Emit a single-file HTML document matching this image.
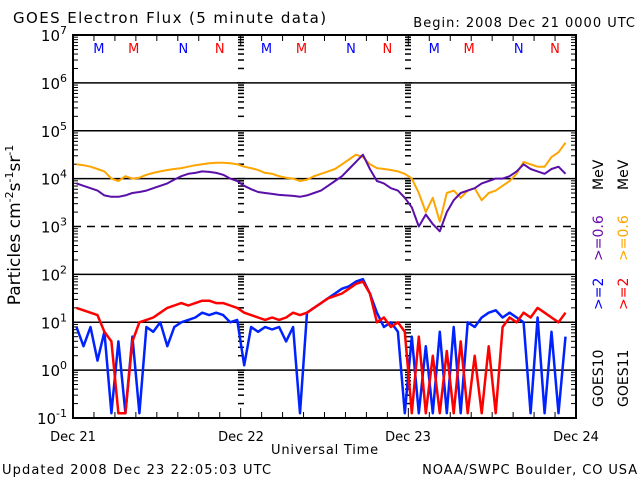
<!DOCTYPE html>
<html><head><meta charset="utf-8">
<style>
html,body{margin:0;padding:0;background:#fff;}
svg{display:block;font-family:"DejaVu Sans","Liberation Sans",sans-serif;}
</style></head>
<body>
<svg id="chart" width="640" height="480" viewBox="0 0 640 480">
<rect x="0" y="0" width="640" height="480" fill="#fff"/>
<text x="13" y="23" font-size="15" letter-spacing="1.4">GOES Electron Flux (5 minute data)</text>
<text x="636" y="27" font-size="13" letter-spacing="1" text-anchor="end">Begin: 2008 Dec 21 0000 UTC</text>
<g id="grid"></g>
<g id="ticks"></g>
<g id="series"></g>
<rect x="73" y="35" width="503" height="383" fill="none" stroke="#000" stroke-width="2"/>
<g id="ylabels" font-size="15"></g>
<g id="mn" font-size="13"></g>
<text x="73" y="441" font-size="13" text-anchor="middle">Dec 21</text>
<text x="241" y="441" font-size="13" text-anchor="middle">Dec 22</text>
<text x="408" y="441" font-size="13" text-anchor="middle">Dec 23</text>
<text x="576" y="441" font-size="13" text-anchor="middle">Dec 24</text>
<text x="325" y="454" font-size="13" letter-spacing="0.8" text-anchor="middle">Universal Time</text>
<text x="2" y="474" font-size="13" letter-spacing="1.1">Updated 2008 Dec 23 22:05:03 UTC</text>
<text x="638" y="474" font-size="13" letter-spacing="0.9" text-anchor="end">NOAA/SWPC Boulder, CO USA</text>
<text transform="translate(20,225) rotate(-90)" font-size="17" text-anchor="middle">Particles cm<tspan dy="-7" font-size="11">-2</tspan><tspan dy="7">s</tspan><tspan dy="-7" font-size="11">-1</tspan><tspan dy="7">sr</tspan><tspan dy="-7" font-size="11">-1</tspan></text>
<g font-size="14">
<text transform="translate(603,407) rotate(-90)" fill="#000">GOES10</text>
<text transform="translate(603,310) rotate(-90)" fill="#0000ff">&gt;=2</text>
<text transform="translate(603,261) rotate(-90)" fill="#6a0dad">&gt;=0.6</text>
<text transform="translate(603,190) rotate(-90)" fill="#000">MeV</text>
<text transform="translate(628,407) rotate(-90)" fill="#000">GOES11</text>
<text transform="translate(628,310) rotate(-90)" fill="#ff0000">&gt;=2</text>
<text transform="translate(628,261) rotate(-90)" fill="#ffa500">&gt;=0.6</text>
<text transform="translate(628,190) rotate(-90)" fill="#000">MeV</text>
</g>
</svg>
<script>
const hours = Array.from({length:71},(_,i)=>i);
const purpleLog = [3.9,3.85,3.8,3.75,3.65,3.62,3.62,3.65,3.7,3.72,3.75,3.8,3.85,3.9,3.98,4.05,4.1,4.12,4.15,4.14,4.12,4.08,4.0,3.95,3.85,3.78,3.72,3.7,3.68,3.66,3.65,3.64,3.62,3.65,3.7,3.75,3.85,3.95,4.05,4.2,4.35,4.5,4.2,3.95,3.9,3.8,3.75,3.6,3.4,3.0,3.25,3.05,2.9,3.3,3.55,3.7,3.75,3.8,3.9,3.95,4.0,4.0,4.05,4.15,4.3,4.2,4.15,4.1,4.2,4.25,4.1];
const orangeLog = [4.3,4.28,4.25,4.2,4.15,4.0,3.95,4.05,4.0,4.02,4.08,4.12,4.15,4.18,4.2,4.22,4.25,4.28,4.3,4.32,4.33,4.33,4.32,4.3,4.25,4.22,4.18,4.12,4.1,4.05,4.02,4.0,3.95,3.98,4.05,4.1,4.15,4.2,4.3,4.4,4.5,4.45,4.3,4.22,4.2,4.18,4.15,4.1,4.0,3.7,3.3,3.6,3.1,3.7,3.75,3.6,3.75,3.8,3.55,3.7,3.75,3.85,3.95,4.1,4.35,4.3,4.25,4.25,4.45,4.55,4.75];
const blueLog = [0.9,0.5,0.9,0.2,0.8,-0.9,0.6,-0.9,0.7,-0.9,0.9,0.8,1.0,0.5,0.9,1.0,1.05,1.1,1.2,1.15,1.2,1.15,1.0,1.05,0.1,0.9,0.8,0.9,0.85,0.9,0.6,0.9,-0.9,1.2,1.3,1.4,1.5,1.6,1.7,1.75,1.85,1.9,1.6,1.2,0.9,1.0,0.8,-0.9,0.7,-0.9,0.5,-0.9,0.8,-0.9,0.9,-0.9,1.0,0.9,1.1,1.2,1.25,1.1,1.2,1.1,1.0,-0.9,1.1,-0.9,0.8,-0.9,0.7];
const redLog = [1.3,1.25,1.2,1.15,0.8,0.6,-0.9,-0.9,0.6,1.0,1.05,1.1,1.2,1.3,1.35,1.4,1.35,1.4,1.45,1.45,1.4,1.4,1.35,1.3,1.2,1.15,1.1,1.05,1.1,1.05,1.1,1.2,1.15,1.2,1.3,1.4,1.5,1.55,1.6,1.7,1.8,1.85,1.6,1.0,1.1,0.9,1.0,0.8,-0.9,0.7,-0.9,0.3,-0.9,0.4,-0.9,0.6,-0.9,0.3,-0.9,0.5,-0.9,0.9,1.1,1.0,1.2,1.1,1.3,1.2,1.1,1.0,1.2];
const yTickExps = [7,6,5,4,3,2,1,0,-1];
const mnLetters = ["M","M","N","N"];
const mnHours = [3.7,8.7,15.8,21.0];

const NS="http://www.w3.org/2000/svg";
const X0=73,X1=576,Y0=35,Y1=418;
const xs = h => X0 + h*(X1-X0)/72;
const ys = l => Y1 - (l+1)*(Y1-Y0)/8;
function mk(tag,attrs,parent){const e=document.createElementNS(NS,tag);for(const k in attrs)e.setAttribute(k,attrs[k]);parent.appendChild(e);return e;}
const grid=document.getElementById('grid'),ticks=document.getElementById('ticks'),series=document.getElementById('series'),ylab=document.getElementById('ylabels'),mn=document.getElementById('mn');
[6,5,4,3,2,1,0].forEach(e=>{
  const l=mk('line',{x1:X0,x2:X1,y1:ys(e),y2:ys(e),stroke:'#000','stroke-width':1.5},grid);
  if(e===3) l.setAttribute('stroke-dasharray','8,6');
  
  
});
yTickExps.forEach(e=>{
  const t=mk('text',{x:67,y:ys(e)+6,'text-anchor':'end'},ylab);
  t.textContent='10';
  const s=mk('tspan',{dy:-7,'font-size':11},t); s.textContent=String(e);
  
  
});
for(let e=-1;e<7;e++){for(let m=2;m<10;m++){const y=ys(e+Math.log10(m));
  mk('line',{x1:X0,x2:X0+5,y1:y,y2:y,stroke:'#000'},ticks);
  [241,408].forEach(x=>mk('line',{x1:x-3,x2:x+3,y1:y,y2:y,stroke:'#000','stroke-width':1.5},ticks));
  mk('line',{x1:X1-5,x2:X1,y1:y,y2:y,stroke:'#000'},ticks);
}}
for(let e=-1;e<=7;e++){[241,408].forEach(x=>mk('line',{x1:x-4,x2:x+4,y1:ys(e),y2:ys(e),stroke:'#000','stroke-width':1.5},ticks));
  mk('line',{x1:X0,x2:X0+8,y1:ys(e),y2:ys(e),stroke:'#000'},ticks);}
for(let h=3;h<72;h+=3){const x=xs(h);const len=(h%24===0)?10:6;
  mk('line',{x1:x,x2:x,y1:Y1-len,y2:Y1,stroke:'#000'},ticks);
  mk('line',{x1:x,x2:x,y1:Y0,y2:Y0+len,stroke:'#000'},ticks);}
for(let d=0;d<3;d++){mnLetters.forEach((c,i)=>{const t=mk('text',{x:xs(d*24+mnHours[i]),y:53,'text-anchor':'middle',fill:(i%2===0)?'#0000ff':'#ff0000'},mn);t.textContent=c;
  
  });}
function linePath(vals){let d='';vals.forEach((v,i)=>{const y=ys(Math.max(-0.92,v));const x=xs(hours[i]+0.5);d+=(i===0?'M':'L')+x.toFixed(1)+','+y.toFixed(1);});return d;}
function drawSeries(vals,color,name,w){const p=mk('path',{d:linePath(vals),fill:'none',stroke:color,'stroke-width':w,'stroke-linejoin':'round'},series);
  
  }
drawSeries(blueLog,'#0022ff','series-goes10-2mev',2.5);
drawSeries(redLog,'#ff0000','series-goes11-2mev',2.5);
drawSeries(orangeLog,'#ffa500','series-goes11-0.6mev',2);
drawSeries(purpleLog,'#5a0fa8','series-goes10-0.6mev',2);
</script>
</body></html>
